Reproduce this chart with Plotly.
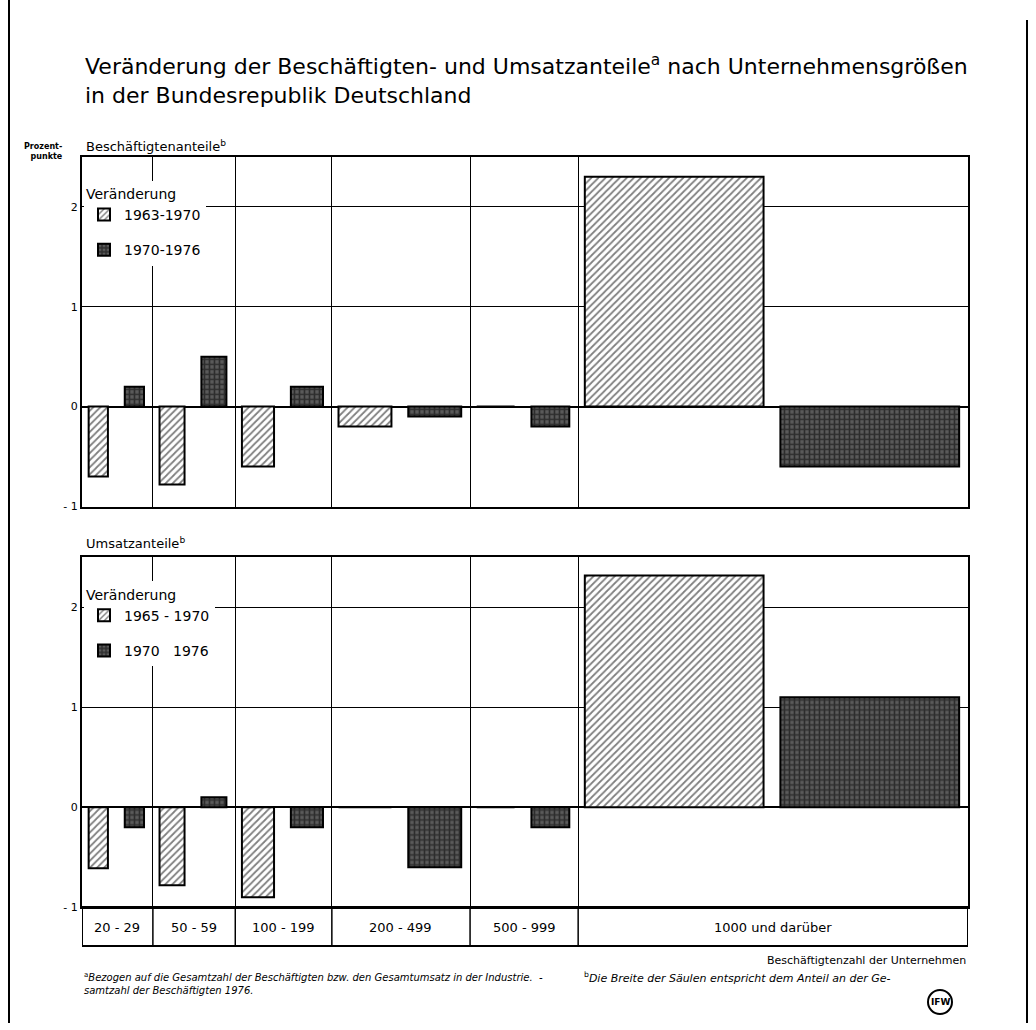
import plotly.graph_objects as go

# ---- data ----
categories = ["20 - 29", "50 - 59", "100 - 199", "200 - 499", "500 - 999", "1000 und darüber"]
shares_1976 = [8.0, 9.3, 10.9, 15.6, 12.2, 44.0]   # column width = share of employees 1976 (%)

emp_6370 = [-0.70, -0.78, -0.60, -0.20, 0.0, 2.30]
emp_7076 = [0.20, 0.50, 0.20, -0.10, -0.20, -0.60]
rev_6570 = [-0.61, -0.78, -0.90, 0.0, 0.0, 2.32]
rev_7076 = [-0.20, 0.10, -0.20, -0.60, -0.20, 1.10]

y_ticks = [-1, 0, 1, 2]
y_ticktext = ["- 1", "0", "1", "2"]

W, H = 1036, 1030
HR = 1024  # effective rendered height used for placement
FONT = "DejaVu Sans"

def px(x):
    return x / W

def py(y):
    return 1 - y / HR

# column geometry computed from the shares
bounds = [0.0]
for s in shares_1976:
    bounds.append(bounds[-1] + s)
total = bounds[-1]
LG, MG, RG = 0.75, 1.9, 1.0
bw = [(s - LG - MG - RG) / 2 for s in shares_1976]
x_a = [bounds[i] + LG + bw[i] / 2 for i in range(len(shares_1976))]
x_b = [bounds[i] + LG + bw[i] + MG + bw[i] / 2 for i in range(len(shares_1976))]
mids = [(bounds[i] + bounds[i + 1]) / 2 for i in range(len(shares_1976))]

hatch = dict(shape="/", fgcolor="black", bgcolor="white", size=5, solidity=0.35)
dense = dict(shape="+", fgcolor="black", bgcolor="#5a5a5a", size=5, solidity=0.55)

fig = go.Figure()

def add_bars(vals, xs, pattern, name, xaxis, yaxis, legend, group):
    fig.add_trace(go.Bar(
        x=xs, y=vals, width=bw, name=name, legendgroup=group,
        marker=dict(color="white", pattern=pattern, line=dict(color="black", width=2)),
        xaxis=xaxis, yaxis=yaxis, legend=legend, hoverinfo="skip",
    ))

add_bars(emp_6370, x_a, hatch, "1963-1970", "x", "y", "legend", "a1")
add_bars(emp_7076, x_b, dense, "1970-1976", "x", "y", "legend", "b1")
add_bars(rev_6570, x_a, hatch, "1965 - 1970", "x2", "y2", "legend2", "a2")
add_bars(rev_7076, x_b, dense, "1970   1976", "x2", "y2", "legend2", "b2")

xdom = [px(82), px(968)]
axis_x = dict(range=[0, total], domain=xdom, tickvals=bounds, showticklabels=False,
              showgrid=True, gridcolor="black", gridwidth=1, ticks="",
              showline=True, linecolor="black", linewidth=2, mirror=True, zeroline=False)
axis_y = dict(range=[-1, 2.5], tickvals=y_ticks, ticktext=y_ticktext, showgrid=True,
              gridcolor="black", gridwidth=1, zeroline=True, zerolinecolor="black",
              zerolinewidth=2, showline=True, linecolor="black", linewidth=2, mirror=True,
              ticks="", tickfont=dict(family=FONT, size=11, color="black"))

legend_common = dict(xanchor="left", yanchor="top", bgcolor="white",
                     title=dict(text="Veränderung", font=dict(size=14)),
                     font=dict(size=14), tracegroupgap=14, itemwidth=30)

fig.update_layout(
    width=W, height=H, margin=dict(l=0, r=0, t=0, b=0),
    paper_bgcolor="white", plot_bgcolor="white", barmode="overlay",
    font=dict(family=FONT, color="black"),
    xaxis=dict(axis_x, anchor="y"),
    yaxis=dict(axis_y, domain=[py(507), py(157)], anchor="x"),
    xaxis2=dict(axis_x, anchor="y2"),
    yaxis2=dict(axis_y, domain=[py(908), py(558)], anchor="x2"),
    legend=dict(legend_common, x=px(84), y=py(181)),
    legend2=dict(legend_common, x=px(84), y=py(582)),
    showlegend=True,
)

shapes = []
# category row below the lower panel
shapes.append(dict(type="rect", xref="x2", yref="paper", x0=0, x1=total, y0=py(947), y1=py(908),
                   line=dict(color="black", width=2)))
for b in bounds[1:-1]:
    shapes.append(dict(type="line", xref="x2", yref="paper", x0=b, x1=b, y0=py(947), y1=py(908),
                       line=dict(color="black", width=1.5)))
# outer frame lines
shapes.append(dict(type="line", xref="paper", yref="paper", x0=px(9), x1=px(9), y0=0, y1=1,
                   line=dict(color="black", width=2)))
shapes.append(dict(type="line", xref="paper", yref="paper", x0=px(1027), x1=px(1027), y0=0, y1=py(20),
                   line=dict(color="black", width=2)))
# logo circle
shapes.append(dict(type="circle", xref="paper", yref="paper", x0=px(928), x1=px(952),
                   y0=py(1015), y1=py(991), line=dict(color="black", width=2)))
fig.update_layout(shapes=shapes)

ann = []
ann.append(dict(text="Veränderung der Beschäftigten- und Umsatzanteile<sup>a</sup> nach Unternehmensgrößen<br>in der Bundesrepublik Deutschland",
                x=px(83), y=py(80), xref="paper", yref="paper", xanchor="left", yanchor="middle",
                align="left", showarrow=False, font=dict(size=22)))
ann.append(dict(text="Beschäftigtenanteile<sup>b</sup>", x=px(84), y=py(146), xref="paper", yref="paper",
                xanchor="left", yanchor="middle", showarrow=False, font=dict(size=13)))
ann.append(dict(text="Umsatzanteile<sup>b</sup>", x=px(84), y=py(544), xref="paper", yref="paper",
                xanchor="left", yanchor="middle", showarrow=False, font=dict(size=13)))
ann.append(dict(text="<b>Prozent-<br>punkte</b>", x=px(65), y=py(152), xref="paper", yref="paper",
                xanchor="right", yanchor="middle", align="right", showarrow=False, font=dict(size=8)))
for m, c in zip(mids, categories):
    ann.append(dict(text=c, x=m, y=py(928), xref="x2", yref="paper", xanchor="center",
                    yanchor="middle", showarrow=False, font=dict(size=13)))
ann.append(dict(text="Beschäftigtenzahl der Unternehmen", x=px(968), y=py(961), xref="paper", yref="paper",
                xanchor="right", yanchor="middle", showarrow=False, font=dict(size=11)))
ann.append(dict(text="<sup>a</sup><i>Bezogen auf die Gesamtzahl der Beschäftigten bzw. den Gesamtumsatz in der Industrie.  -</i><br><i>samtzahl der Beschäftigten 1976.</i>",
                x=px(82), y=py(984), xref="paper", yref="paper", xanchor="left", yanchor="middle",
                align="left", showarrow=False, font=dict(size=10)))
ann.append(dict(text="<sup>b</sup><i>Die Breite der Säulen entspricht dem Anteil an der Ge-</i>",
                x=px(582), y=py(978), xref="paper", yref="paper", xanchor="left", yanchor="middle",
                align="left", showarrow=False, font=dict(size=11)))
ann.append(dict(text="<b>IFW</b>", x=px(940), y=py(1003), xref="paper", yref="paper", xanchor="center",
                yanchor="middle", showarrow=False, font=dict(size=9)))
fig.update_layout(annotations=ann)

fig.write_html("out.html", config={"displayModeBar": False},
               post_script="document.body.style.margin='0px';")
